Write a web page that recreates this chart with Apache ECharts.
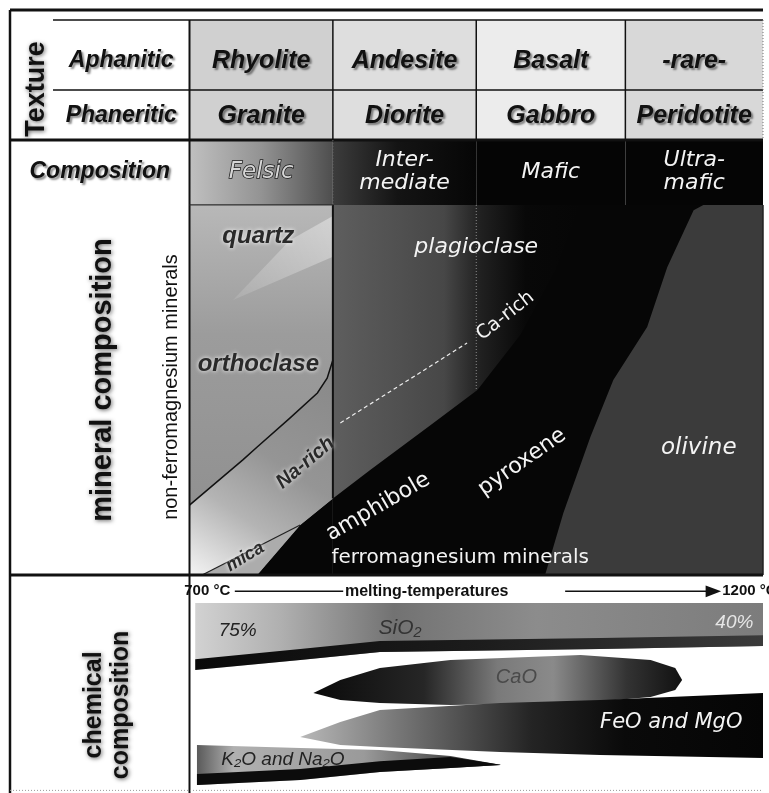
<!DOCTYPE html>
<html>
<head>
<meta charset="utf-8">
<title>Igneous rock classification</title>
<script src="https://cdn.jsdelivr.net/npm/echarts@6/dist/echarts.min.js"></script>
<style>
  html, body { margin: 0; padding: 0; background: #fff; }
  #main { width: 769px; height: 793px; }
</style>
</head>
<body>
<div id="main"></div>
<script>
// ---- data ----
// composition index: 0 = felsic ... 100 = ultramafic
const compositions = ['Felsic', 'Inter-\nmediate', 'Mafic', 'Ultra-\nmafic'];
const compEdges = [0, 25, 50, 76, 100];
const textures = ['Aphanitic', 'Phaneritic'];
const aphanitic = ['Rhyolite', 'Andesite', 'Basalt', '-rare-'];
const phaneritic = ['Granite', 'Diorite', 'Gabbro', 'Peridotite'];
const meltTemps = [700, 1200];
const silica = ['75%', '40%'];

// mineral boundaries [composition index, % of rock counted from the bottom]
const orthoclaseLine = [[0, 18.9], [9.3, 31.1], [11.8, 34.6], [17.5, 42.4], [22.3, 49.2], [24, 53.2], [25, 58.1]];
const micaLine = [[2.2, 0], [19.3, 13.5]];
const ferroLine = [[11.8, 0], [19.3, 13.5], [25, 20.7], [31.5, 28.4], [42, 40.5], [50.2, 50], [57.7, 64.9], [63.8, 82.4], [68.1, 100]];
const olivineLine = [[62, 0], [65.2, 16.8], [69.9, 37.3], [73.9, 52.7], [79.8, 67], [83.3, 83.2], [87.9, 98.6], [89.6, 100]];
const plagioLine = [[26.3, 41.1], [48.4, 62.7]]; // Na-rich -> Ca-rich

// oxide bands [composition index, top, bottom] (panel units, 0 = top)
const sio2Band = [[1, 12.8, 43.6], [19.3, 12.8, 39], [33.2, 12.8, 35.3], [71.6, 12.8, 33.9], [100, 12.8, 32.6]];
const caoBand = [[21.6, 54.1, 54.1], [26.3, 48.2, 57.3], [33.2, 42.7, 58.7], [45.5, 39, 59.6], [68.2, 36.7, 58.7], [80.4, 39, 56], [84.7, 42.7, 52.8], [85.9, 48.2, 48.2]];
const feoBand = [[19.3, 74.3, 74.3], [26.3, 67.4, 78], [33.2, 61.9, 78.9], [54.2, 58.7, 81.2], [71.6, 57.3, 82.6], [100, 54.1, 83.9]];
const k2oBand = [[1.3, 78, 96.3], [19.3, 79.4, 94], [33.2, 80.3, 90.4], [45.5, 83, 88.5], [54.2, 87, 87.2]];

// ---- helpers ----
const SANS = 'Liberation Sans, Arial, sans-serif';
const DEJA = 'DejaVu Sans, sans-serif';
const LEFT = -31.3;   // outer left edge of the label column
const SUB = -23.8;    // start of the texture label cells

const toPts = (api, list) => list.map(p => api.coord(p));
const poly = (api, list, fill) => ({ type: 'polygon', shape: { points: toPts(api, list) }, style: { fill: fill } });
const line = (api, list, stroke, lw, dash) => ({
  type: 'polyline', shape: { points: toPts(api, list) },
  style: { fill: null, stroke: stroke, lineWidth: lw, lineDash: dash || null }
});
const label = (api, pos, text, st, rot) => {
  const p = api.coord(pos);
  return {
    type: 'text', x: p[0], y: p[1], rotation: (rot || 0) * Math.PI / 180,
    style: Object.assign({ text: text, align: 'center', verticalAlign: 'middle' }, st)
  };
};
const lin = (x, y, x2, y2, stops) => new echarts.graphic.LinearGradient(x, y, x2, y2,
  stops.map(s => ({ offset: s[0], color: s[1] })));

const boldIt = size => ({
  fontFamily: SANS, fontSize: size, fontWeight: 'bold', fontStyle: 'italic', fill: '#111',
  textShadowColor: 'rgba(0,0,0,0.45)', textShadowBlur: 2, textShadowOffsetX: 2, textShadowOffsetY: 2
});
const boldGlow = size => ({
  fontFamily: SANS, fontSize: size, fontWeight: 'bold', fill: '#111',
  textShadowColor: 'rgba(0,0,0,0.6)', textShadowBlur: 4, textShadowOffsetX: 1, textShadowOffsetY: 1
});
const white = (size, italic) => ({
  fontFamily: DEJA, fontSize: size, fontStyle: italic ? 'italic' : 'normal', fill: '#f4f4f4'
});
const darkGlow = size => ({
  fontFamily: SANS, fontSize: size, fontWeight: 'bold', fontStyle: 'italic', fill: '#2a2a2a',
  textShadowColor: '#ffffff', textShadowBlur: 4
});
const bandPts = b => b.map(p => [p[0], p[1]]).concat(b.slice().reverse().map(p => [p[0], p[2]]));
const bottomEdge = (b, t) => b.map(p => [p[0], Math.max(p[1], p[2] - t), p[2]]);

// ---- table: texture rows + composition row ----
const rowEdges = [0, 70, 120, 185];
const rowTextY = [41, 96, 152];
const rockFill = ['#d0d0d0', '#dedede', '#ececec', '#d8d8d8'];
const cells = [];
textures.forEach((t, r) => cells.push({ c: -1, r: r, text: t }));
cells.push({ c: -1, r: 2, text: 'Composition' });
aphanitic.forEach((t, c) => cells.push({ c: c, r: 0, text: t }));
phaneritic.forEach((t, c) => cells.push({ c: c, r: 1, text: t }));
compositions.forEach((t, c) => cells.push({ c: c, r: 2, text: t }));

function renderCell(params, api) {
  const d = cells[params.dataIndex];
  const x0 = d.c < 0 ? (d.r < 2 ? SUB : LEFT) : compEdges[d.c];
  const x1 = d.c < 0 ? 0 : compEdges[d.c + 1];
  const y0 = rowEdges[d.r], y1 = rowEdges[d.r + 1];
  let fill = '#fff';
  if (d.c >= 0 && d.r < 2) fill = rockFill[d.c];
  if (d.c >= 0 && d.r === 2) {
    fill = d.c === 0 ? lin(0, 0, 1, 0, [[0, '#c0c0c0'], [0.5, '#939393'], [1, '#4e4e4e']])
      : d.c === 1 ? lin(0, 0, 1, 0, [[0, '#3c3c3c'], [0.45, '#141414'], [1, '#060606']])
      : '#050505';
  }
  let st;
  if (d.c < 0) st = boldIt(23);
  else if (d.r < 2) st = boldIt(25);
  else if (d.c === 0) st = { fontFamily: DEJA, fontSize: 23, fontStyle: 'italic', fill: '#d6d6d6', stroke: '#1a1a1a', lineWidth: 1.5 };
  else st = Object.assign(white(22, true), { lineHeight: 23 });
  return {
    type: 'group', children: [
      poly(api, [[x0, y0], [x1, y0], [x1, y1], [x0, y1]], fill),
      label(api, [(x0 + x1) / 2, rowTextY[d.r]], d.text, st)
    ]
  };
}

function renderTableFrame(params, api) {
  return {
    type: 'group', children: [
      label(api, [-26.6, 69], 'Texture', boldGlow(27), 90),
      line(api, [[LEFT, -10], [100, -10]], '#111', 3),
      line(api, [[SUB, 0], [100, 0]], '#111', 1.5),
      line(api, [[SUB, 70], [100, 70]], '#111', 1.5),
      line(api, [[LEFT, 120], [100, 120]], '#111', 3),
      line(api, [[0, 185], [25, 185]], '#222', 1),
      line(api, [[LEFT, -10], [LEFT, 185]], '#111', 2.5),
      line(api, [[0, 0], [0, 185]], '#111', 2),
      line(api, [[25, 0], [25, 120]], '#111', 1.5),
      line(api, [[50, 0], [50, 120]], '#111', 1.5),
      line(api, [[76, 0], [76, 120]], '#111', 1.5),
      line(api, [[25, 120], [25, 185]], '#666', 1, [1, 2]),
      line(api, [[100, 0], [100, 120]], '#777', 1, [1, 2])
    ]
  };
}

// ---- mineral composition ----
const felsicArea = [[0, 0], [0, 100], [25, 100], [25, 0]];
const maficArea = [[25, 0], [25, 100], [100, 100], [100, 0]];
const plagArea = [[25, 100]].concat(ferroLine.filter(p => p[0] >= 25).reverse());
const ferroFelsic = ferroLine.filter(p => p[0] <= 25).concat([[25, 0]]);
const naRichArea = orthoclaseLine.concat(ferroLine.filter(p => p[0] <= 25 && p[0] > 12).reverse(), [micaLine[0], [0, 0]]);
const micaArea = [micaLine[0], micaLine[1], ferroLine[0]];
const olivineArea = olivineLine.concat([[100, 100], [100, 0]]);

function renderMinerals(params, api) {
  return {
    type: 'group', children: [
      poly(api, felsicArea, lin(0, 0, 0, 1, [[0, '#b8b8b8'], [0.35, '#9c9c9c'], [1, '#8c8c8c']])),
      poly(api, [[7.6, 74.3], [17.5, 90.5], [25, 97], [25, 86]], lin(1, 0, 0, 1, [[0, 'rgba(255,255,255,0.4)'], [1, 'rgba(255,255,255,0.1)']])),
      poly(api, maficArea, '#060606'),
      poly(api, plagArea, lin(0, 0, 1, 0, [[0, '#5e5e5e'], [0.45, '#474747'], [0.6, '#202020'], [0.78, '#080808'], [1, '#060606']])),
      poly(api, ferroFelsic, '#060606'),
      poly(api, naRichArea, lin(0, 1, 1, 0, [[0, '#f4f4f4'], [0.3, '#b4b4b4'], [0.55, '#959595'], [1, '#888888']])),
      poly(api, micaArea, '#acacac'),
      poly(api, olivineArea, '#3b3b3b'),
      line(api, orthoclaseLine, '#111', 1.5),
      line(api, micaLine, '#222', 1.2),
      line(api, [[25, 100], [25, 20.7]], '#111', 2),
      line(api, [[50, 100], [50, 50]], '#8a8a8a', 1, [1, 2]),
      line(api, plagioLine, '#eeeeee', 1.2, [4, 3]),
      label(api, [12, 91.4], 'quartz', darkGlow(24)),
      label(api, [12, 57], 'orthoclase', darkGlow(24)),
      label(api, [20.2, 30.3], 'Na-rich', darkGlow(20), 40),
      label(api, [9.7, 4.9], 'mica', darkGlow(18), 31),
      label(api, [50, 88.6], 'plagioclase', white(22, true)),
      label(api, [55.1, 70], 'Ca-rich', white(19, false), 38),
      label(api, [32.9, 18.4], 'amphibole', white(22, false), 30),
      label(api, [58, 30.5], 'pyroxene', white(22, false), 35),
      label(api, [88.8, 34.3], 'olivine', white(23, true)),
      label(api, [47.2, 4.6], 'ferromagnesium minerals', white(20, false)),
      label(api, [-15, 52.7], 'mineral composition', boldGlow(29), 90),
      label(api, [-3.2, 50.8], 'non-ferromagnesium minerals', { fontFamily: SANS, fontSize: 20, fill: '#111' }, 90),
      line(api, [[LEFT, 100], [LEFT, 0]], '#111', 2.5),
      line(api, [[0, 100], [0, 0]], '#111', 2),
      line(api, [[0, 100], [25, 100]], '#333', 1),
      line(api, [[100, 100], [100, 0]], '#222', 1.5),
      line(api, [[LEFT, 0], [100, 0]], '#111', 3)
    ]
  };
}

// ---- chemical composition ----
function renderChemistry(params, api) {
  return {
    type: 'group', children: [
      poly(api, bandPts(sio2Band), lin(0, 0, 1, 0, [[0, '#d2d2d2'], [0.15, '#b0b0b0'], [0.35, '#727272'], [0.6, '#8c8c8c'], [1, '#7c7c7c']])),
      poly(api, bandPts(bottomEdge(sio2Band, 5)), lin(0, 0, 1, 0, [[0, '#0a0a0a'], [0.5, '#1c1c1c'], [1, '#3a3a3a']])),
      poly(api, bandPts(caoBand), lin(0, 0, 1, 0, [[0, '#0a0a0a'], [0.3, '#262626'], [0.5, '#7a7a7a'], [0.65, '#8a8a8a'], [0.85, '#333'], [1, '#111']])),
      poly(api, bandPts(feoBand), lin(0, 0, 1, 0, [[0, '#b8b8b8'], [0.2, '#7a7a7a'], [0.5, '#242424'], [0.7, '#0a0a0a'], [1, '#050505']])),
      poly(api, bandPts(k2oBand), lin(0, 0, 1, 0, [[0, '#5a5a5a'], [0.12, '#b0b0b0'], [0.55, '#9a9a9a'], [0.85, '#444'], [1, '#111']])),
      poly(api, bandPts(bottomEdge(k2oBand, 5)), '#0c0c0c'),
      label(api, [7.1, 7.5], meltTemps[0] + ' °C', { fontFamily: SANS, fontSize: 15, fontWeight: 'bold', fill: '#111', align: 'right' }),
      line(api, [[7.9, 7.5], [26.8, 7.5]], '#111', 1.5),
      label(api, [27.1, 7.5], 'melting-temperatures', { fontFamily: SANS, fontSize: 16, fontWeight: 'bold', fill: '#111', align: 'left' }),
      line(api, [[65.5, 7.5], [90.5, 7.5]], '#111', 1.5),
      poly(api, [[90, 4.8], [92.7, 7.5], [90, 10.2]], '#111'),
      label(api, [92.9, 7.5], meltTemps[1] + ' °C', { fontFamily: SANS, fontSize: 15, fontWeight: 'bold', fill: '#111', align: 'left' }),
      label(api, [8.4, 25.7], silica[0], { fontFamily: SANS, fontSize: 19, fontStyle: 'italic', fill: '#222' }),
      label(api, [36.7, 24.5], 'SiO₂', { fontFamily: SANS, fontSize: 21, fontStyle: 'italic', fill: '#333' }),
      label(api, [95, 22], silica[1], { fontFamily: SANS, fontSize: 19, fontStyle: 'italic', fill: '#e6e6e6' }),
      label(api, [57, 46.8], 'CaO', { fontFamily: SANS, fontSize: 20, fontStyle: 'italic', fill: '#4a4a4a' }),
      label(api, [84, 67.9], 'FeO and MgO', white(21, true)),
      label(api, [16.3, 84.9], 'K₂O and Na₂O', { fontFamily: SANS, fontSize: 19, fontStyle: 'italic', fill: '#222' }),
      label(api, [-14.2, 59.6], 'chemical\ncomposition', Object.assign(boldGlow(25), { lineHeight: 27 }), 90),
      line(api, [[LEFT, 0], [LEFT, 100]], '#111', 2.5),
      line(api, [[0, 0], [0, 100]], '#111', 2),
      line(api, [[LEFT, 98.8], [100, 98.8]], '#999', 1, [1, 2])
    ]
  };
}

const custom = (grid, n, renderItem) => ({
  type: 'custom', coordinateSystem: 'cartesian2d', xAxisIndex: grid, yAxisIndex: grid,
  silent: true, clip: false, data: Array.from({ length: n }, (_, i) => [i, 0]), renderItem: renderItem
});

const chart = echarts.init(document.getElementById('main'));
chart.setOption({
  animation: false,
  backgroundColor: '#fff',
  grid: [
    { left: 10, right: 6, top: 20, height: 185 },
    { left: 10, right: 6, top: 205, height: 370 },
    { left: 10, right: 6, top: 575, height: 218 }
  ],
  xAxis: [0, 1, 2].map(i => ({ type: 'value', gridIndex: i, min: LEFT, max: 100, show: false })),
  yAxis: [
    { type: 'value', gridIndex: 0, min: 0, max: 185, inverse: true, show: false },
    { type: 'value', gridIndex: 1, min: 0, max: 100, show: false },
    { type: 'value', gridIndex: 2, min: 0, max: 100, inverse: true, show: false }
  ],
  series: [
    custom(0, cells.length, renderCell),
    custom(0, 1, renderTableFrame),
    custom(1, 1, renderMinerals),
    custom(2, 1, renderChemistry)
  ]
});
</script>
</body>
</html>
